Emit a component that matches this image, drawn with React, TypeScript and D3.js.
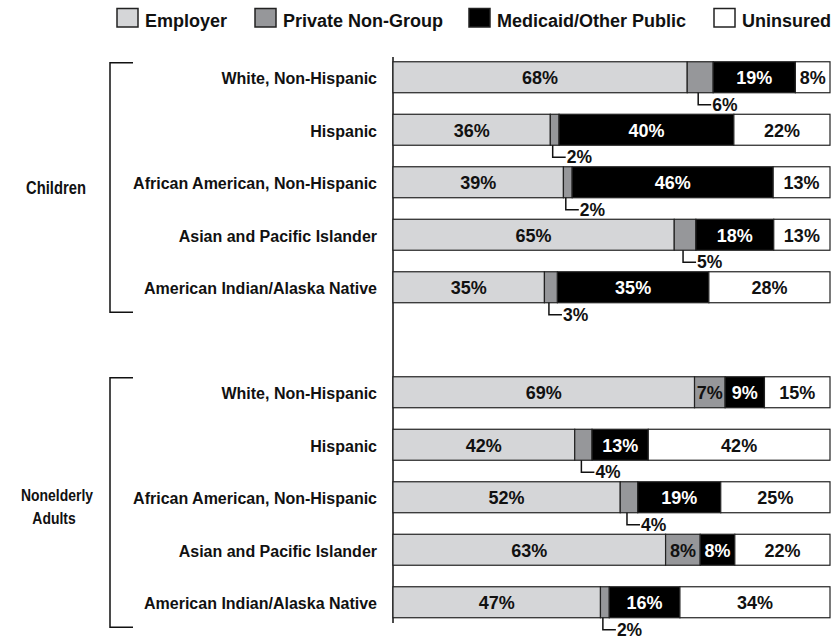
import React from "react";
import * as d3 from "d3";

const groups = ["Children", "Nonelderly Adults"];
const races = [
  "White, Non-Hispanic",
  "Hispanic",
  "African American, Non-Hispanic",
  "Asian and Pacific Islander",
  "American Indian/Alaska Native",
];
const seriesNames = ["Employer", "Private Non-Group", "Medicaid/Other Public", "Uninsured"];
const seriesColors = ["#d5d6d8", "#96979a", "#000000", "#ffffff"];
const labelColors = ["#111", "#111", "#fff", "#111"];

// Children
const childEmployer = [68, 36, 39, 65, 35];
const childPrivate = [6, 2, 2, 5, 3];
const childMedicaid = [19, 40, 46, 18, 35];
const childUninsured = [8, 22, 13, 13, 28];
// Nonelderly adults
const adultEmployer = [69, 42, 52, 63, 47];
const adultPrivate = [7, 4, 4, 8, 2];
const adultMedicaid = [9, 13, 19, 8, 16];
const adultUninsured = [15, 42, 25, 22, 34];

const groupSeries = [
  [childEmployer, childPrivate, childMedicaid, childUninsured],
  [adultEmployer, adultPrivate, adultMedicaid, adultUninsured],
];

const FONT = "'Liberation Sans', Arial, sans-serif";

export default function App() {
  const W = 835;
  const H = 639;

  const slots: string[] = [];
  groups.forEach((g, gi) => {
    races.forEach((r) => slots.push(`${g}|${r}`));
    if (gi < groups.length - 1) slots.push("gap");
  });

  const y = d3
    .scaleBand<string>()
    .domain(slots)
    .range([51, 628.5])
    .paddingInner(0.41)
    .paddingOuter(0.205);
  const x = d3.scaleLinear().domain([0, 100]).range([393, 830]);
  const bw = y.bandwidth();

  const rows: any[] = [];
  groups.forEach((g, gi) => {
    races.forEach((r, ri) => {
      const vals = groupSeries[gi].map((s) => s[ri]);
      const total = d3.sum(vals);
      let cum = 0;
      const segs = vals.map((v, si) => {
        const x0 = x((cum / total) * 100);
        cum += v;
        const x1 = x((cum / total) * 100);
        return { v, si, x0, x1 };
      });
      rows.push({ key: `${g}|${r}`, race: r, segs });
    });
  });

  const legendX = [117, 255, 469, 714];

  const brackets = groups.map((g) => {
    const first = y(`${g}|${races[0]}`)!;
    const last = y(`${g}|${races[races.length - 1]}`)!;
    return { g, top: first + 1, bottom: last + bw + 9.5 };
  });

  return (
    <svg
      width={W}
      height={H}
      style={{ position: "absolute", left: 0, top: 0, background: "#fff" }}
    >
      {/* legend */}
      {seriesNames.map((s, i) => (
        <g key={s}>
          <rect
            x={legendX[i]}
            y={8.5}
            width={21}
            height={18.5}
            fill={seriesColors[i]}
            stroke="#222"
            strokeWidth={1.5}
          />
          <text
            x={legendX[i] + 28}
            y={26.5}
            fontFamily={FONT}
            fontWeight="bold"
            fontSize={18}
            fill="#111"
          >
            {s}
          </text>
        </g>
      ))}

      {/* axis line */}
      <line x1={393} x2={393} y1={57} y2={623} stroke="#111" strokeWidth={1.5} />

      {/* brackets and group labels */}
      {brackets.map((b, i) => {
        const mid = (b.top + b.bottom) / 2;
        return (
          <g key={b.g}>
            <path
              d={`M133,${b.top}H110V${b.bottom}H133`}
              fill="none"
              stroke="#111"
              strokeWidth={1.5}
            />
            {i === 0 ? (
              <text
                transform={`translate(56,${mid + 6}) scale(0.82,1)`}
                textAnchor="middle"
                fontFamily={FONT}
                fontWeight="bold"
                fontSize={18}
                fill="#111"
              >
                {b.g}
              </text>
            ) : (
              <g>
                <text
                  transform={`translate(57,${mid - 2}) scale(0.82,1)`}
                  textAnchor="middle"
                  fontFamily={FONT}
                  fontWeight="bold"
                  fontSize={17}
                  fill="#111"
                >
                  {b.g.split(" ")[0]}
                </text>
                <text
                  transform={`translate(54,${mid + 21}) scale(0.82,1)`}
                  textAnchor="middle"
                  fontFamily={FONT}
                  fontWeight="bold"
                  fontSize={17}
                  fill="#111"
                >
                  {b.g.split(" ")[1]}
                </text>
              </g>
            )}
          </g>
        );
      })}

      {/* rows */}
      {rows.map((row) => {
        const y0 = y(row.key)!;
        const cy = y0 + bw / 2;
        return (
          <g key={row.key}>
            <text
              x={377}
              y={cy + 7}
              textAnchor="end"
              fontFamily={FONT}
              fontWeight="bold"
              fontSize={16}
              fill="#111"
            >
              {row.race}
            </text>
            {row.segs.map((s: any) => (
              <rect
                key={s.si}
                x={s.x0}
                y={y0}
                width={s.x1 - s.x0}
                height={bw}
                fill={seriesColors[s.si]}
                stroke="#222"
                strokeWidth={1.2}
              />
            ))}
            {row.segs.map((s: any) => {
              const mid = (s.x0 + s.x1) / 2;
              const inside = s.si !== 1 || s.v >= 7;
              if (inside) {
                return (
                  <text
                    key={`l${s.si}`}
                    x={mid}
                    y={cy + 7}
                    textAnchor="middle"
                    fontFamily={FONT}
                    fontWeight="bold"
                    fontSize={18}
                    fill={labelColors[s.si]}
                  >
                    {`${s.v}%`}
                  </text>
                );
              }
              const yb = y0 + bw;
              return (
                <g key={`l${s.si}`}>
                  <path
                    d={`M${mid - 2},${yb}V${yb + 12}H${mid + 11}`}
                    fill="none"
                    stroke="#111"
                    strokeWidth={1.5}
                  />
                  <text
                    x={mid + 12}
                    y={yb + 18}
                    fontFamily={FONT}
                    fontWeight="bold"
                    fontSize={17.5}
                    fill="#111"
                  >
                    {`${s.v}%`}
                  </text>
                </g>
              );
            })}
          </g>
        );
      })}
    </svg>
  );
}
